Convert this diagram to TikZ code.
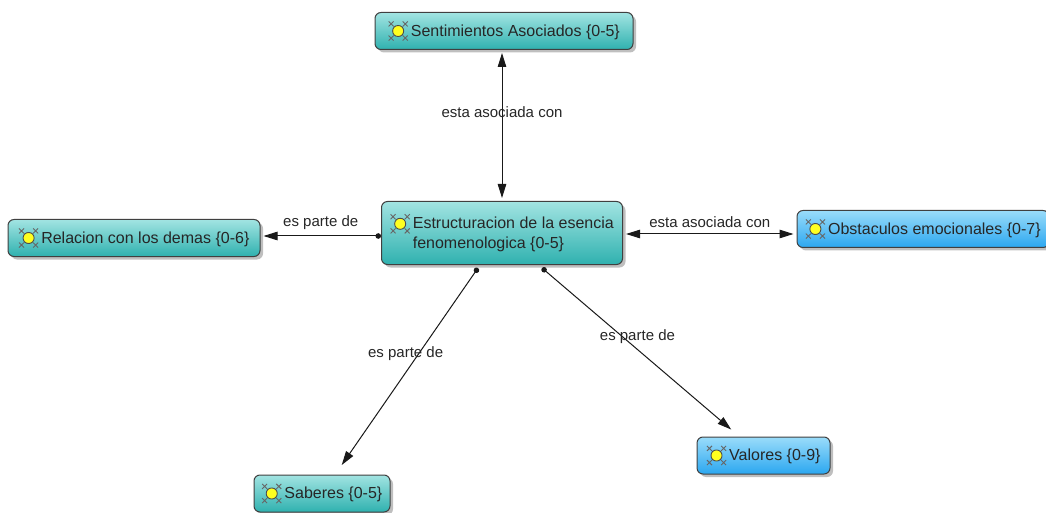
\documentclass[tikz,border=0pt]{standalone}
\usepackage{fontspec}
\setmainfont{Liberation Sans}
\usetikzlibrary{arrows.meta,shadows}

\definecolor{tealtop}{HTML}{A2E4E2}
\definecolor{tealbot}{HTML}{2FB1AF}
\definecolor{bluetop}{HTML}{9ADCFA}
\definecolor{bluebot}{HTML}{2BA7F0}
\definecolor{iconyel}{HTML}{FFFF20}
\newcommand{\icono}{\tikz[baseline=-0.6ex,x=1pt,y=1pt]{%
  \foreach \a in {45,135,225,315}
    \draw[black!60,line width=0.9pt] (\a:10) ++(-2.5,-2.5) -- ++(5,5) ++(-5,0) -- ++(5,-5);
  \filldraw[fill=iconyel,draw=black!70,line width=0.9pt,line join=miter]
    (0,8) -- (8,0) -- (0,-8) -- (-8,0) -- cycle;}}

\tikzset{
  concepto/.style={draw=black!75,line width=1pt,rounded corners=6pt,
    top color=tealtop,bottom color=tealbot,
    drop shadow={shadow xshift=3pt,shadow yshift=-3pt,fill=black!50},
    font=\fontsize{16}{20}\selectfont,text=black!85,inner sep=4pt,minimum height=37pt},
  conceptoazul/.style={concepto,top color=bluetop,bottom color=bluebot},
  enlace/.style={line width=1pt,draw=black!90,shorten >=3pt},
  flecha/.style={enlace,{Circle[length=5.5pt]}-{Triangle[length=14pt,width=8.5pt]}},
  doble/.style={enlace,shorten <=3pt,{Triangle[length=14pt,width=8.5pt]}-{Triangle[length=14pt,width=8.5pt]}},
  etiqueta/.style={font=\fontsize{15}{18}\selectfont,text=black!85,inner sep=1pt}
}

\begin{document}
\begin{tikzpicture}[x=1pt,y=1pt]
\useasboundingbox (0,0) rectangle (1046,512);
% conceptos
\node[concepto,minimum width=241pt,minimum height=63pt,align=left] (centro) at (502,279)
  {\icono\,Estructuracion de la esencia\\\hphantom{\icono\,}fenomenologica \{0-5\}};
\node[concepto,minimum width=258pt] (sent) at (504,481) {\icono\,Sentimientos Asociados \{0-5\}};
\node[concepto,minimum width=252pt] (rel) at (134,274) {\icono\,Relacion con los demas \{0-6\}};
\node[conceptoazul,minimum width=252pt] (obst) at (923,283) {\icono\,Obstaculos emocionales \{0-7\}};
\node[concepto,minimum width=136pt] (sab) at (322,18.5) {\icono\,Saberes \{0-5\}};
\node[conceptoazul,minimum width=133pt] (val) at (763.5,56.5) {\icono\,Valores \{0-9\}};
% enlaces
\draw[doble] (centro.north) -- (centro.north |- sent.south)
  node[etiqueta,pos=0.59] {esta asociada con};
\draw[doble] ([yshift=-1pt]centro.east) -- ([yshift=-1pt]centro.east -| obst.west)
  node[etiqueta,midway,above=5pt] {esta asociada con};
\draw[flecha] ([yshift=-3pt]centro.west) -- ([yshift=-3pt]centro.west -| rel.east)
  node[etiqueta,midway,above=5pt] {es parte de};
\draw[flecha] ([xshift=-24pt,yshift=-3pt]centro.south) -- ([xshift=18pt,yshift=7pt]sab.north)
  node[etiqueta,pos=0.43,xshift=-13pt] {es parte de};
\draw[flecha] ([xshift=40pt,yshift=-3pt]centro.south) -- ([xshift=-30pt,yshift=5pt]val.north)
  node[etiqueta,pos=0.42,xshift=15pt] {es parte de};
\end{tikzpicture}
\end{document}
